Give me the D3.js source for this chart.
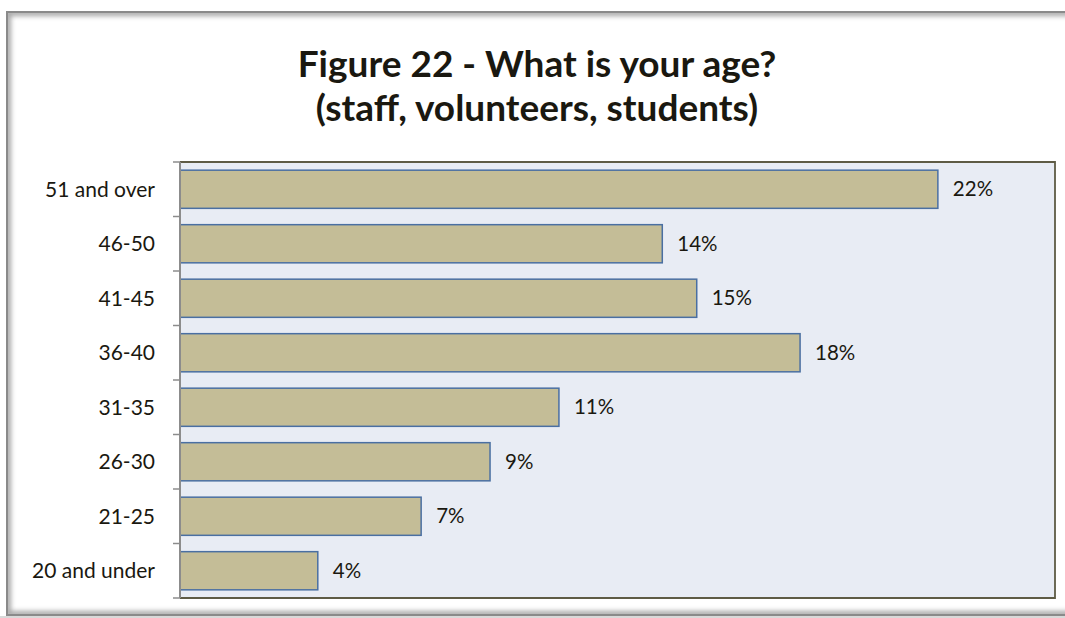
<!DOCTYPE html>
<html>
<head>
<meta charset="utf-8">
<script src="https://cdn.jsdelivr.net/npm/d3@7"></script>
<style>
  html, body { margin: 0; padding: 0; background: #ffffff; }
  svg { display: block; }
  text { font-family: Lato, "Open Sans", sans-serif; fill: #1a1810; }
</style>
</head>
<body>
<svg id="chart" width="1065" height="618"></svg>
<script>
// Age groups, top to bottom
const categories = ["51 and over", "46-50", "41-45", "36-40", "31-35", "26-30", "21-25", "20 and under"];
// Share of respondents in each age group
const values = [0.22, 0.14, 0.15, 0.18, 0.11, 0.09, 0.07, 0.04];
const titleLines = ["Figure 22 - What is your age?", "(staff, volunteers, students)"];

const W = 1065, H = 618;
const svg = d3.select("#chart");
const defs = svg.append("defs");

// Outer frame with a soft inner shadow
const frame = { x: 7, y: 12, w: 1075, h: 603 };
defs.append("clipPath").attr("id", "frameClip")
  .append("rect").attr("x", frame.x).attr("y", frame.y).attr("width", frame.w).attr("height", frame.h);
defs.append("filter").attr("id", "soft").attr("x", "-5%").attr("y", "-5%").attr("width", "110%").attr("height", "110%")
  .append("feGaussianBlur").attr("stdDeviation", 2.5);

svg.append("rect").attr("x", 0).attr("y", 0).attr("width", W).attr("height", H).attr("fill", "#ffffff");
svg.append("rect")
  .attr("x", frame.x).attr("y", frame.y).attr("width", frame.w).attr("height", frame.h)
  .attr("fill", "#ffffff");
svg.append("g").attr("clip-path", "url(#frameClip)")
  .append("rect")
  .attr("x", frame.x + 1).attr("y", frame.y + 1).attr("width", frame.w - 2).attr("height", frame.h - 2)
  .attr("fill", "none").attr("stroke", "#a6a6a6").attr("stroke-width", 6)
  .attr("filter", "url(#soft)");
svg.append("rect")
  .attr("x", frame.x).attr("y", frame.y).attr("width", frame.w).attr("height", frame.h)
  .attr("fill", "none").attr("stroke", "#8a8a8a").attr("stroke-width", 2);
// shade below the frame
svg.append("rect").attr("x", 0).attr("y", frame.y + frame.h + 1).attr("width", W).attr("height", 3)
  .attr("fill", "#d9d9d9");

// Plot area
const plot = { left: 180, top: 162, right: 1055, bottom: 598 };

const x = d3.scaleLinear().domain([0, 0.254]).range([plot.left, plot.right]);
const y = d3.scaleBand().domain(categories).range([plot.top, plot.bottom])
  .paddingInner(0.3).paddingOuter(0.15);

svg.append("rect")
  .attr("x", plot.left).attr("y", plot.top)
  .attr("width", plot.right - plot.left).attr("height", plot.bottom - plot.top)
  .attr("fill", "#e8ecf4");

// Plot border (top, right, bottom)
svg.append("path")
  .attr("d", `M${plot.left},${plot.top}H${plot.right}V${plot.bottom}H${plot.left}`)
  .attr("fill", "none").attr("stroke", "#5e5b45").attr("stroke-width", 1.8);

// Bars
const data = categories.map((c, i) => ({ cat: c, val: values[i] }));
svg.append("g").selectAll("rect").data(data).join("rect")
  .attr("x", x(0))
  .attr("y", d => y(d.cat))
  .attr("width", d => x(d.val) - x(0))
  .attr("height", y.bandwidth())
  .attr("fill", "#c4bd97")
  .attr("stroke", "#4a6fa2")
  .attr("stroke-width", 1.5);

// Value labels
const fmt = d3.format(".0%");
svg.append("g").selectAll("text").data(data).join("text")
  .attr("x", d => x(d.val) + 15)
  .attr("y", d => y(d.cat) + y.bandwidth() / 2)
  .attr("dy", "0.35em")
  .attr("font-size", 20.5)
  .text(d => fmt(d.val));

// Category axis: line, ticks at band boundaries, labels
const step = y.step();
const bounds = categories.map(c => y(c) - y.paddingOuter() * step);
bounds.push(plot.bottom);
const axis = svg.append("g");
axis.selectAll("line.tick").data(bounds).join("line")
  .attr("class", "tick")
  .attr("x1", plot.left - 7).attr("x2", plot.left)
  .attr("y1", d => d).attr("y2", d => d)
  .attr("stroke", "#8c8c8c").attr("stroke-width", 1.5);
axis.append("line")
  .attr("x1", plot.left).attr("x2", plot.left)
  .attr("y1", plot.top).attr("y2", plot.bottom)
  .attr("stroke", "#8c8c8c").attr("stroke-width", 2);
axis.selectAll("text").data(categories).join("text")
  .attr("x", plot.left - 25)
  .attr("y", d => y(d) + y.bandwidth() / 2)
  .attr("dy", "0.35em")
  .attr("text-anchor", "end")
  .attr("font-size", 21)
  .text(d => d);

// Title
svg.append("g").selectAll("text").data(titleLines).join("text")
  .attr("x", 537)
  .attr("y", (d, i) => 77 + i * 44)
  .attr("text-anchor", "middle")
  .attr("font-size", 37)
  .attr("font-weight", "bold")
  .text(d => d);
</script>
</body>
</html>
